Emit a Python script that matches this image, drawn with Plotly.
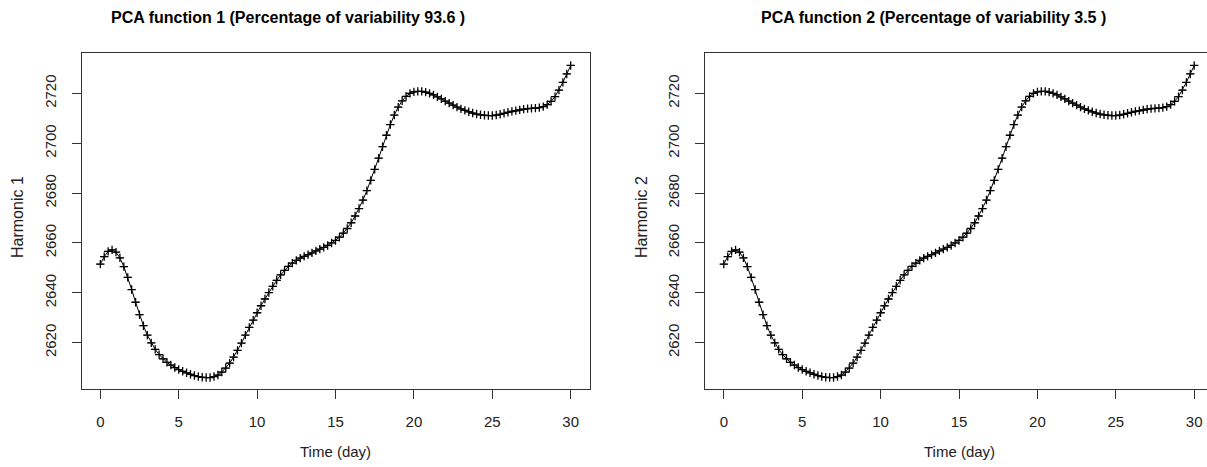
import plotly.graph_objects as go

# Time grid (days) and mean curve values
time_day = [0.25 * i for i in range(121)]
mean_curve = [
    2651.5, 2654.5, 2656.6, 2657.2, 2656.3, 2654.0, 2650.5, 2646.2, 2641.3, 2636.2,
    2631.2, 2626.8, 2623.0, 2619.9, 2617.3, 2615.2, 2613.5, 2612.1, 2611.0, 2610.0,
    2609.2, 2608.5, 2607.9, 2607.3, 2606.8, 2606.4, 2606.1, 2606.0, 2606.0, 2606.4,
    2607.0, 2608.2, 2609.8, 2611.8, 2614.2, 2616.9, 2619.8, 2623.0, 2626.1, 2629.0,
    2632.0, 2634.8, 2637.5, 2640.1, 2642.6, 2645.0, 2647.2, 2649.0, 2650.6, 2651.9,
    2653.0, 2653.9, 2654.6, 2655.3, 2656.0, 2656.8, 2657.5, 2658.2, 2659.0, 2660.0,
    2661.0, 2662.3, 2663.9, 2665.8, 2668.1, 2670.8, 2673.8, 2677.2, 2681.0, 2685.1,
    2689.5, 2694.0, 2698.6, 2703.2, 2707.5, 2711.3, 2714.5, 2717.0, 2718.8, 2720.0,
    2720.6, 2720.8, 2720.8, 2720.5, 2720.0, 2719.4, 2718.6, 2717.8, 2716.9, 2716.1,
    2715.3, 2714.5, 2713.8, 2713.2, 2712.6, 2712.1, 2711.7, 2711.4, 2711.2, 2711.1,
    2711.1, 2711.3, 2711.6, 2712.0, 2712.4, 2712.8, 2713.1, 2713.4, 2713.7, 2713.9,
    2714.0, 2714.1, 2714.3, 2714.7, 2715.5, 2716.8, 2718.7, 2721.3, 2724.4, 2727.8,
    2731.2,
]
# mean +/- harmonic (perturbations are visually negligible)
plus_curve_1 = list(mean_curve)
minus_curve_1 = list(mean_curve)
plus_curve_2 = list(mean_curve)
minus_curve_2 = list(mean_curve)

titles = ["PCA function 1 (Percentage of variability 93.6 )",
          "PCA function 2 (Percentage of variability 3.5 )"]
ylabels = ["Harmonic 1", "Harmonic 2"]
xlabel = "Time (day)"
xticks = [0, 5, 10, 15, 20, 25, 30]
yticks = [2620, 2640, 2660, 2680, 2700, 2720]

W, H = 1207, 467
INK = "#222222"
NARROW = "Liberation Sans Narrow, Arial Narrow, Liberation Sans, Arial, sans-serif"
REG = "Liberation Sans, Arial, sans-serif"

fig = go.Figure()

panels = [
    dict(xa="x", ya="y", plus=plus_curve_1, minus=minus_curve_1),
    dict(xa="x2", ya="y2", plus=plus_curve_2, minus=minus_curve_2),
]
for p in panels:
    fig.add_trace(go.Scatter(x=time_day, y=mean_curve, mode="lines",
                             line=dict(color="black", width=1),
                             xaxis=p["xa"], yaxis=p["ya"], showlegend=False,
                             hoverinfo="skip"))
    fig.add_trace(go.Scatter(x=time_day, y=p["minus"], mode="markers",
                             marker=dict(symbol="line-ew", size=5, color="black",
                                         line=dict(color="#333333", width=1)),
                             xaxis=p["xa"], yaxis=p["ya"], showlegend=False))
    fig.add_trace(go.Scatter(x=time_day, y=p["plus"], mode="markers",
                             marker=dict(symbol="cross-thin", size=6, color="black",
                                         line=dict(color="black", width=1.3)),
                             xaxis=p["xa"], yaxis=p["ya"], showlegend=False))

y_dom = [(H - 389) / H, (H - 53) / H]
x_dom1 = [81.5 / W, 589.5 / W]
x_dom2 = [705 / W, 1.0]
px_per_day = 508 / 32.4
x_rng2 = [-1.2, -1.2 + (W - 705) / px_per_day]

axis_common = dict(showline=True, linecolor="#333333", linewidth=1,
                   ticks="outside", ticklen=9, tickcolor="#333333",
                   showgrid=False, zeroline=False)

fig.update_layout(
    width=W, height=H,
    margin=dict(l=0, r=0, t=0, b=0),
    paper_bgcolor="white", plot_bgcolor="white",
    xaxis=dict(domain=x_dom1, range=[-1.2, 31.2], tickvals=xticks, mirror=True,
               anchor="y", tickfont=dict(family=NARROW, size=15, color=INK),
               ticklabelstandoff=10, **axis_common),
    yaxis=dict(domain=y_dom, range=[2601.4, 2736.2], tickvals=yticks, mirror=True,
               anchor="x", tickangle=-90,
               tickfont=dict(family=REG, size=15, color=INK),
               ticklabelstandoff=10, **axis_common),
    xaxis2=dict(domain=x_dom2, range=x_rng2, tickvals=xticks, mirror=True,
                anchor="y2", tickfont=dict(family=NARROW, size=15, color=INK),
                ticklabelstandoff=10, **axis_common),
    yaxis2=dict(domain=y_dom, range=[2601.4, 2736.2], tickvals=yticks, mirror=False,
                anchor="x2", tickangle=-90,
                tickfont=dict(family=REG, size=15, color=INK),
                ticklabelstandoff=10, **axis_common),
)

ann = []
for cx, t in zip([288, 933], titles):
    ann.append(dict(text="<b>%s</b>" % t, x=cx / W, y=1 - 17 / H, xref="paper", yref="paper",
                    showarrow=False, xanchor="center", yanchor="middle",
                    font=dict(family=NARROW, size=16, color="black")))
for cx in [335, 959]:
    ann.append(dict(text=xlabel, x=cx / W, y=1 - 451 / H, xref="paper", yref="paper",
                    showarrow=False, xanchor="center", yanchor="middle",
                    font=dict(family=NARROW, size=15, color=INK)))
for cx, t in zip([18, 642], ylabels):
    ann.append(dict(text=t, x=cx / W, y=1 - 217 / H, xref="paper", yref="paper",
                    showarrow=False, xanchor="center", yanchor="middle", textangle=-90,
                    font=dict(family=REG, size=16, color=INK)))
fig.update_layout(annotations=ann)

fig.write_html("out.html")
